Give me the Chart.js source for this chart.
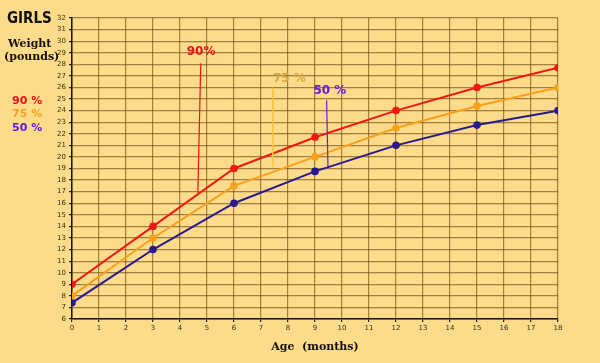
<!DOCTYPE html>
<html>
<head>
<meta charset="utf-8">
<script src="https://cdn.jsdelivr.net/npm/chart.js@4/dist/chart.umd.min.js"></script>
<style>
  html, body { margin: 0; padding: 0; background: #fcdb8b; }
  #wrap { width: 600px; height: 363px; position: relative; }
</style>
</head>
<body>
<div id="wrap"><canvas id="girls"></canvas></div>
<script>
// age in months
const ages = [0, 3, 6, 9, 12, 15, 18];
// weight in pounds, per percentile
const p90 = [9, 14, 19, 21.7, 24, 26, 27.7];
const p75 = [8, 13, 17.5, 20, 22.5, 24.4, 26];
const p50 = [7.4, 12, 16, 18.75, 21, 22.75, 24];

// callout labels on the plot (data units)
const calloutText = ['90%', '75 %', '50 %'];
const calloutX = [4.78, 8.05, 9.55];
const calloutY = [29.1, 26.7, 25.7];
const pointerTopX = [4.77, 7.44, 9.43];
const pointerTopY = [28.1, 26.0, 24.9];
const pointerBotX = [4.66, 7.44, 9.48];
const pointerBotY = [16.9, 19.1, 19.2];

const lineColors = ['#ee1a12', '#f7a01c', '#2a1890'];
const calloutColors = ['#e8141a', '#d6a83a', '#6a1ce0'];
const pointerColors = ['#e8141a', '#f8c440', '#6a1ce0'];

function pts(vals) {
    return ages.map((a, i) => ({x: a, y: vals[i]}));
}

function series(label, vals, color) {
    return {
        label: label,
        data: pts(vals),
        borderColor: color,
        backgroundColor: color,
        borderWidth: 2,
        pointRadius: 3.8,
        pointBorderWidth: 0,
        tension: 0
    };
}

const textPlugin = {
    id: 'girlsText',
    afterDatasetsDraw(chart) {
        const ctx = chart.ctx;
        const xs = chart.scales.x, ys = chart.scales.y;
        ctx.save();
        // pointer lines + callouts
        for (let i = 0; i < calloutText.length; i++) {
            ctx.strokeStyle = pointerColors[i];
            ctx.lineWidth = i === 1 ? 1.6 : 1.2;
            ctx.beginPath();
            ctx.moveTo(xs.getPixelForValue(pointerTopX[i]), ys.getPixelForValue(pointerTopY[i]));
            ctx.lineTo(xs.getPixelForValue(pointerBotX[i]), ys.getPixelForValue(pointerBotY[i]));
            ctx.stroke();
            ctx.fillStyle = calloutColors[i];
            ctx.font = 'bold 12px "DejaVu Sans"';
            ctx.textAlign = 'center';
            ctx.textBaseline = 'middle';
            ctx.fillText(calloutText[i], xs.getPixelForValue(calloutX[i]), ys.getPixelForValue(calloutY[i]));
        }
        // left side titles
        ctx.textAlign = 'left';
        ctx.fillStyle = '#140e06';
        ctx.font = 'bold 15px "DejaVu Sans Condensed"';
        ctx.fillText('GIRLS', 7, 19);
        ctx.font = 'bold 11px "DejaVu Serif"';
        ctx.fillText('Weight', 8, 44);
        ctx.fillText('(pounds)', 4, 57);
        ctx.font = 'bold 11px "DejaVu Sans"';
        const legendText = ['90 %', '75 %', '50 %'];
        const legendCol = ['#e8141a', '#f7a01c', '#5a18d8'];
        for (let i = 0; i < 3; i++) {
            ctx.fillStyle = legendCol[i];
            ctx.fillText(legendText[i], 12, 101 + i * 13.5);
        }
        ctx.restore();
    }
};

new Chart(document.getElementById('girls'), {
    type: 'line',
    data: {
        datasets: [
            series('90 %', p90, lineColors[0]),
            series('75 %', p75, lineColors[1]),
            series('50 %', p50, lineColors[2])
        ]
    },
    options: {
        responsive: true,
        maintainAspectRatio: false,
        animation: false,
        layout: {padding: {left: 0, right: 42, top: 18, bottom: 0}},
        plugins: {
            legend: {display: false},
            tooltip: {enabled: false}
        },
        scales: {
            x: {
                type: 'linear',
                min: 0,
                max: 18,
                ticks: {
                    stepSize: 1,
                    color: '#3a2c14',
                    font: {size: 7, family: 'DejaVu Sans'},
                    padding: 2
                },
                grid: {
                    color: 'rgba(110, 70, 15, 0.62)',
                    lineWidth: 1.2,
                    tickLength: 3,
                    tickColor: '#2a1e0a'
                },
                border: {color: '#1a1208', width: 1.5},
                title: {
                    display: true,
                    text: 'Age  (months)',
                    color: '#140e06',
                    font: {size: 11, weight: 'bold', family: 'DejaVu Serif'},
                    padding: {top: 0, bottom: 9}
                },
                afterFit(scale) { scale.height = 44; }
            },
            y: {
                min: 6,
                max: 32,
                ticks: {
                    stepSize: 1,
                    color: '#3a2c14',
                    font: {size: 7, family: 'DejaVu Sans'},
                    padding: 3
                },
                grid: {
                    color: 'rgba(110, 70, 15, 0.62)',
                    lineWidth: 1.2,
                    tickLength: 3,
                    tickColor: '#2a1e0a'
                },
                border: {color: '#1a1208', width: 1.5},
                afterFit(scale) { scale.width = 72; }
            }
        }
    },
    plugins: [textPlugin]
});
</script>
</body>
</html>
